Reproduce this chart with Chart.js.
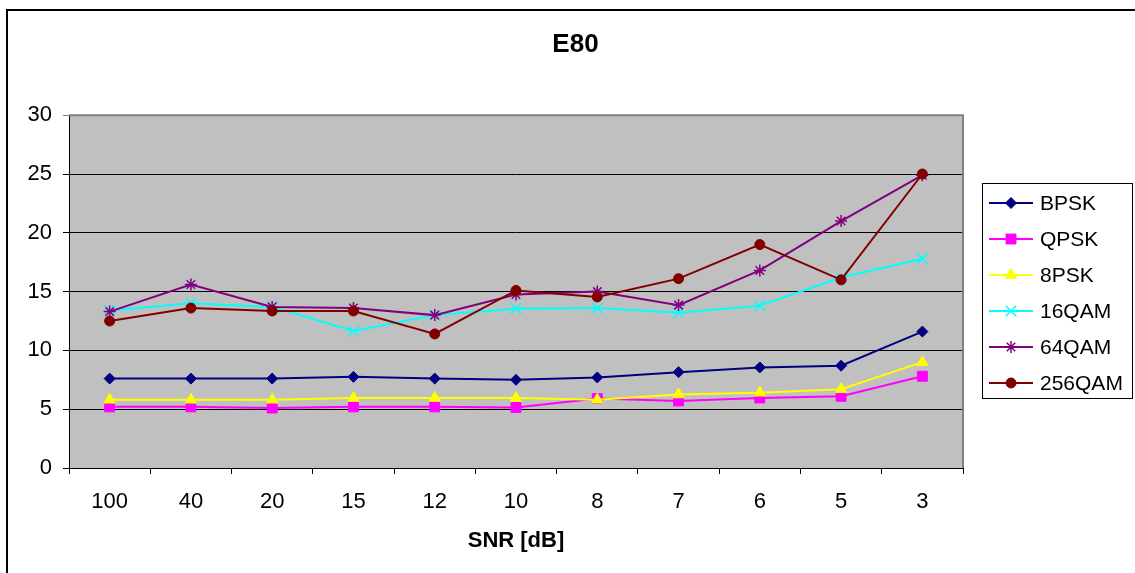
<!DOCTYPE html>
<html lang="en">
<head>
    <meta charset="UTF-8">
    <title>E80</title>
    <style>
        body { margin: 0; background: #fff; }
        #myChart { display: block; }
    </style>
    <script src="https://cdn.jsdelivr.net/npm/chart.js"></script>
</head>
<body>
    <canvas id="myChart" width="1135" height="573"></canvas>
    <script>
        // SNR categories and series values
        const snrLabels = ['100', '40', '20', '15', '12', '10', '8', '7', '6', '5', '3'];
        const bpsk   = [7.6, 7.6, 7.6, 7.75, 7.6, 7.5, 7.7, 8.15, 8.55, 8.7, 11.6];
        const qpsk   = [5.2, 5.2, 5.1, 5.2, 5.2, 5.15, 5.9, 5.7, 5.95, 6.1, 7.8];
        const psk8   = [5.8, 5.8, 5.8, 5.95, 5.95, 5.95, 5.8, 6.25, 6.4, 6.7, 9.0];
        const qam16  = [13.4, 14.0, 13.7, 11.65, 13.0, 13.55, 13.6, 13.2, 13.8, 16.2, 17.8];
        const qam64  = [13.3, 15.6, 13.7, 13.6, 13.0, 14.75, 15.0, 13.85, 16.8, 21.0, 24.9];
        const qam256 = [12.5, 13.6, 13.35, 13.35, 11.4, 15.1, 14.55, 16.1, 19.0, 16.0, 25.0];

        const fontFamily = '"Liberation Sans", Arial, sans-serif';

        function series(label, data, color, style, radius, order) {
            return {
                label: label,
                data: data,
                borderColor: color,
                backgroundColor: color,
                borderWidth: 2,
                pointStyle: style,
                pointRadius: radius,
                pointBorderColor: color,
                pointBackgroundColor: color,
                pointBorderWidth: (style === 'crossRot' || style === 'star') ? 1.5 : 1,
                tension: 0,
                order: order
            };
        }

        const datasets = [
            series('BPSK', bpsk, '#000080', 'rectRot', 5.5, 6),
            series('QPSK', qpsk, '#FF00FF', 'rect', 7, 5),
            series('8PSK', psk8, '#FFFF00', 'triangle', 6.5, 4),
            series('16QAM', qam16, '#00FFFF', 'crossRot', 7.5, 3),
            series('64QAM', qam64, '#800080', 'star', 6, 2),
            series('256QAM', qam256, '#800000', 'circle', 5, 1)
        ];

        // Gray plot area, outer frame and the boxed legend on the right
        const frame = {
            id: 'frame',
            beforeDraw(chart) {
                const ctx = chart.ctx;
                const a = chart.chartArea;
                ctx.save();
                ctx.fillStyle = '#fff';
                ctx.fillRect(0, 0, chart.width, chart.height);
                ctx.strokeStyle = '#000';
                ctx.lineWidth = 2;
                ctx.strokeRect(7, 10, chart.width + 20, chart.height + 20);
                ctx.fillStyle = '#C0C0C0';
                ctx.fillRect(a.left, a.top, a.right - a.left, a.bottom - a.top);
                ctx.restore();
            },
            beforeDatasetsDraw(chart) {
                const ctx = chart.ctx;
                const a = chart.chartArea;
                ctx.save();
                ctx.strokeStyle = '#808080';
                ctx.lineWidth = 2;
                ctx.beginPath();
                ctx.moveTo(a.left, a.top);
                ctx.lineTo(a.right, a.top);
                ctx.lineTo(a.right, a.bottom);
                ctx.stroke();
                ctx.restore();
            },
            afterDraw(chart) {
                const ctx = chart.ctx;
                ctx.save();
                ctx.fillStyle = '#fff';
                ctx.fillRect(982, 183, 150, 215);
                ctx.strokeStyle = '#000';
                ctx.lineWidth = 1;
                ctx.strokeRect(982.5, 183.5, 150, 215);
                ctx.font = '21px ' + fontFamily;
                ctx.textBaseline = 'middle';
                ctx.textAlign = 'left';
                chart.data.datasets.forEach(function(ds, i) {
                    const y = 203 + i * 36;
                    ctx.strokeStyle = ds.borderColor;
                    ctx.lineWidth = 2;
                    ctx.beginPath();
                    ctx.moveTo(989, y);
                    ctx.lineTo(1033, y);
                    ctx.stroke();
                    ctx.fillStyle = ds.pointBackgroundColor;
                    ctx.strokeStyle = ds.pointBorderColor;
                    ctx.lineWidth = ds.pointBorderWidth;
                    Chart.helpers.drawPoint(ctx, {
                        pointStyle: ds.pointStyle,
                        radius: ds.pointRadius,
                        rotation: 0,
                        borderWidth: ds.pointBorderWidth
                    }, 1011, y);
                    ctx.fillStyle = '#000';
                    ctx.fillText(ds.label, 1040, y + 1);
                });
                ctx.restore();
            }
        };

        const ctx = document.getElementById('myChart').getContext('2d');
        const myChart = new Chart(ctx, {
            type: 'line',
            data: {
                labels: snrLabels,
                datasets: datasets
            },
            options: {
                responsive: false,
                animation: false,
                events: [],
                layout: {
                    padding: { left: 16, top: 10, right: 0, bottom: 0 }
                },
                scales: {
                    x: {
                        offset: true,
                        grid: {
                            offset: true,
                            drawOnChartArea: false,
                            drawTicks: true,
                            tickLength: 6,
                            color: '#000'
                        },
                        border: { color: '#000', width: 1 },
                        ticks: {
                            color: '#000',
                            font: { family: fontFamily, size: 22 },
                            padding: 15,
                            maxRotation: 0,
                            autoSkip: false
                        },
                        title: {
                            display: true,
                            text: 'SNR [dB]',
                            color: '#000',
                            font: { family: fontFamily, size: 22, weight: 'bold' },
                            padding: { top: 0, bottom: 19 }
                        },
                        afterFit: function(s) { s.height = 105; }
                    },
                    y: {
                        min: 0,
                        max: 30,
                        grid: {
                            color: function(c) { return c.tick && c.tick.value === 30 ? '#808080' : '#000'; },
                            tickLength: 6
                        },
                        border: { color: '#000', width: 1 },
                        ticks: {
                            stepSize: 5,
                            color: '#000',
                            padding: 11,
                            font: { family: fontFamily, size: 22 }
                        },
                        afterFit: function(s) { s.width = 53; }
                    },
                    side: {
                        type: 'linear',
                        position: 'right',
                        display: true,
                        grid: { display: false },
                        border: { display: false },
                        ticks: { display: false },
                        afterFit: function(s) { s.width = 172; }
                    }
                },
                plugins: {
                    legend: { display: false },
                    tooltip: { enabled: false },
                    title: {
                        display: true,
                        text: 'E80',
                        color: '#000',
                        font: { family: fontFamily, size: 26, weight: 'bold' },
                        padding: { top: 19, bottom: 55 }
                    }
                }
            },
            plugins: [frame]
        });
    </script>
</body>
</html>
